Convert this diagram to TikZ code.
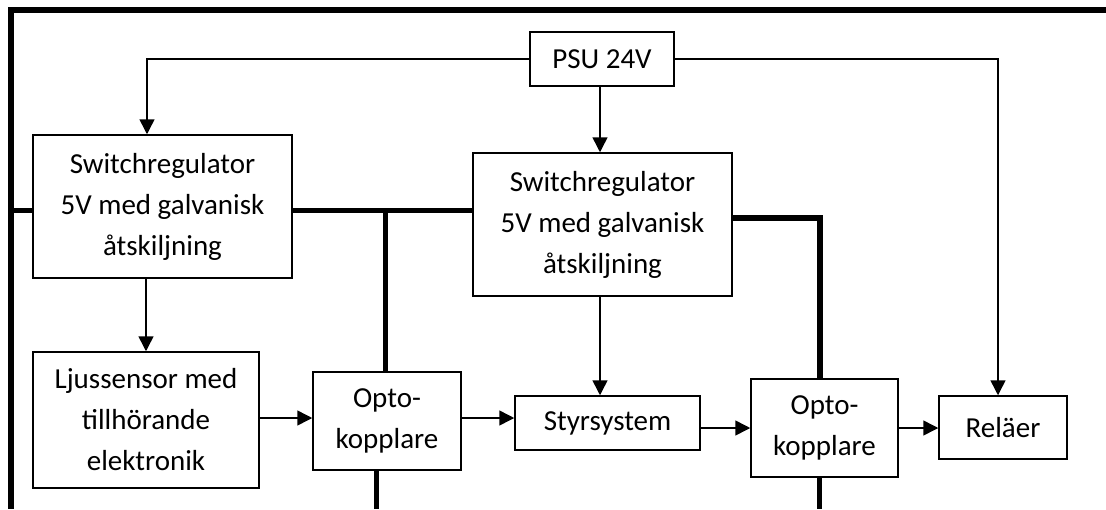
\documentclass[tikz,border=0pt]{standalone}
\usepackage{fontspec}
\setmainfont{Carlito}
\usetikzlibrary{arrows.meta,calc}
\begin{document}
\begin{tikzpicture}[x=1pt,y=-1pt,
  blk/.style={draw,line width=1.5pt,align=center,inner sep=0pt,
    font=\fontsize{29}{41}\selectfont},
  flow/.style={line width=1.5pt,-{Triangle[length=15pt,width=15pt]}},
  bus/.style={line width=5.5pt}]
\useasboundingbox (0,0) rectangle (1106,509);

% blocks
\node[blk,minimum width=144pt,minimum height=54pt] (psu) at (602,59) {PSU 24V};
\node[blk,minimum width=259pt,minimum height=143pt] (sr1) at (162.5,206.5)
  {Switchregulator\\5V med galvanisk\\åtskiljning};
\node[blk,minimum width=259pt,minimum height=143pt] (sr2) at (602.5,224.5)
  {Switchregulator\\5V med galvanisk\\åtskiljning};
\node[blk,minimum width=226pt,minimum height=136pt] (ljus) at (146,420)
  {Ljussensor med\\tillhörande\\elektronik};
\node[blk,minimum width=148pt,minimum height=98pt] (opto1) at (387,421)
  {Opto-\\kopplare};
\node[blk,minimum width=185pt,minimum height=54pt] (styr) at (607.5,423) {Styrsystem};
\node[blk,minimum width=147pt,minimum height=98pt] (opto2) at (824.5,428)
  {Opto-\\kopplare};
\node[blk,minimum width=128pt,minimum height=63pt] (rel) at (1003,427.5) {Reläer};

% supply and signal flow
\draw[flow] (psu.west) -| ([xshift=-15.5pt]sr1.north);
\draw[flow] ([xshift=-2pt]psu.south) -- ([xshift=-2.5pt]sr2.north);
\draw[flow] (psu.east) -| ([xshift=-5pt]rel.north);
\draw[flow] (ljus.north |- sr1.south) -- (ljus.north);
\draw[flow] ([yshift=2pt]ljus.east) -- ([yshift=2pt]ljus.east -| opto1.west);
\draw[flow] ([yshift=3pt]opto1.east) -- ([yshift=3pt]opto1.east -| styr.west);
\draw[flow] ([xshift=-2.5pt]sr2.south) -- ([xshift=-7.5pt]styr.north);
\draw[flow] (styr.east |- opto2.west) -- (opto2.west);
\draw[flow] (opto2.east) -- (opto2.east -| rel.west);

% heavy isolation lines
\coordinate (tr) at (1106,10);
\coordinate (tl) at (11,10);
\coordinate (bl) at (11,509);
\draw[bus] (tr) -- (tl) -- (bl);
\coordinate (b1) at (11,210.5);
\draw[bus] (b1) -- (b1 -| sr1.west);
\draw[bus] (b1 -| sr1.east) -- (b1 -| sr2.west);
\coordinate (j1) at (385.5,210.5);
\draw[bus] (j1) -- (j1 |- opto1.north);
\coordinate (j2) at (820,218);
\draw[bus] (j2 -| sr2.east) -- (j2) -- (j2 |- opto2.north);
\coordinate (e1) at (376.5,509);
\draw[bus] (e1 |- opto1.south) -- (e1);
\coordinate (e2) at (819.5,509);
\draw[bus] (e2 |- opto2.south) -- (e2);
\end{tikzpicture}
\end{document}
